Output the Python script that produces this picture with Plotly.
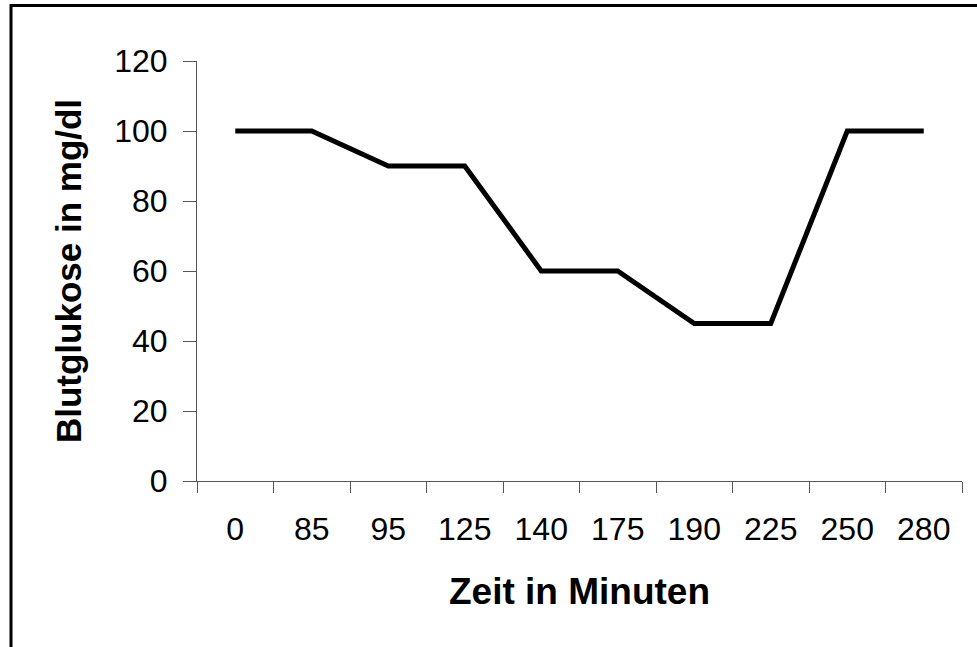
import plotly.graph_objects as go

categories = ["0", "85", "95", "125", "140", "175", "190", "225", "250", "280"]
glucose = [100, 100, 90, 90, 60, 60, 45, 45, 100, 100]
y_ticks = [0, 20, 40, 60, 80, 100, 120]

FONT = "Arial, Liberation Sans, sans-serif"
W, H = 977, 647
L, R, T, B = 197, 15, 61, 166
pw, ph = W - L - R, H - T - B

fig = go.Figure()
fig.add_trace(go.Scatter(
    x=categories, y=glucose, mode="lines",
    line=dict(color="black", width=5),
    showlegend=False, hoverinfo="skip",
))

fig.update_layout(
    width=W, height=H,
    margin=dict(l=L, r=R, t=T, b=B, autoexpand=False),
    paper_bgcolor="white", plot_bgcolor="white",
    font=dict(family=FONT, color="black"),
    xaxis=dict(
        type="category", range=[-0.5, len(categories) - 0.5],
        showgrid=False, zeroline=False,
        showline=True, linecolor="#555555", linewidth=1,
        ticks="outside", tickson="boundaries", ticklen=11, tickcolor="#555555", tickwidth=1,
        tickfont=dict(size=32, family=FONT, color="black"),
        ticklabelstandoff=20,
        title=dict(text="<b>Zeit in Minuten</b>", font=dict(size=37, family=FONT, color="black"), standoff=31),
        automargin=False,
    ),
    yaxis=dict(
        range=[0, 120], tickvals=y_ticks,
        showgrid=False, zeroline=False,
        showline=True, linecolor="#555555", linewidth=1,
        ticks="outside", ticklen=13, tickcolor="#555555", tickwidth=1,
        tickfont=dict(size=32, family=FONT, color="black"),
        ticklabelstandoff=9,
        title=dict(text="<b>Blutglukose in mg/dl</b>", font=dict(size=35, family=FONT, color="black"), standoff=21),
        automargin=False,
    ),
    shapes=[dict(
        type="rect", xref="paper", yref="paper",
        x0=(11 - L) / pw, x1=(W + 20 - L) / pw,
        y0=(T + ph - (H + 20)) / ph, y1=(T + ph - 5.5) / ph,
        line=dict(color="black", width=3), fillcolor="rgba(0,0,0,0)",
        layer="below",
    )],
)

fig.write_html("out.html", config={"displayModeBar": False},
               post_script="document.body.style.margin='0';")
